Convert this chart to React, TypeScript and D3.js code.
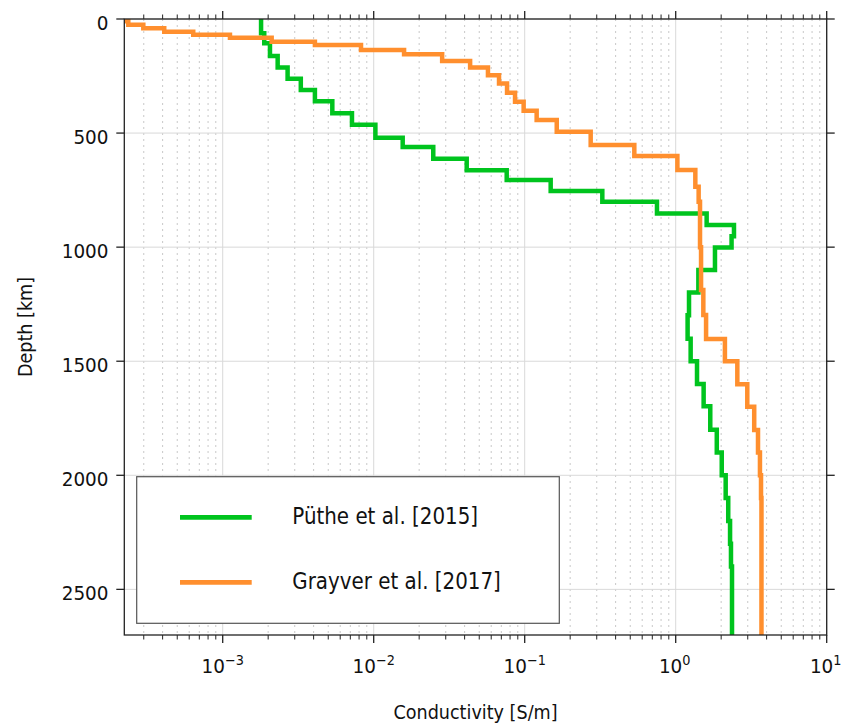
import React from "react";
import * as d3 from "d3";

// layer tops [km] and conductivity [S/m]
const putheDepth = [0, 63, 106, 162, 213, 262, 311, 361, 413, 463, 520, 561, 612, 663, 706, 754, 801, 852, 903, 952, 1002, 1100, 1199, 1299, 1402, 1500, 1600, 1697, 1800, 1900, 2000, 2100, 2200, 2300, 2400];
const putheSigma = [1.795e-3, 1.884e-3, 2.056e-3, 2.312e-3, 2.69e-3, 3.29e-3, 4.08e-3, 5.32e-3, 7.18e-3, 1.026e-2, 1.556e-2, 2.48e-2, 4.13e-2, 7.6e-2, 0.1486, 0.3266, 0.7516, 1.603, 2.432, 2.344, 1.82, 1.413, 1.225, 1.199, 1.256, 1.384, 1.531, 1.694, 1.871, 2.018, 2.143, 2.228, 2.291, 2.323, 2.36];

const grayverDepth = [0, 10, 25, 40, 56, 69, 82, 100, 114, 136, 155, 184, 213, 247, 283, 323, 363, 402, 443, 494, 552, 600, 662, 735, 801, 1000, 1188, 1297, 1403, 1500, 1601, 1700, 1801, 1900, 2000, 2100];
const grayverSigma = [2.25e-4, 2.37e-4, 2.98e-4, 4.1e-4, 6.38e-4, 1.117e-3, 2.11e-3, 4.08e-3, 8.24e-3, 1.589e-2, 2.84e-2, 4.35e-2, 5.71e-2, 6.76e-2, 7.64e-2, 8.63e-2, 9.84e-2, 0.12, 0.163, 0.2735, 0.532, 1.026, 1.349, 1.419, 1.449, 1.472, 1.524, 1.589, 2.118, 2.559, 2.979, 3.311, 3.508, 3.614, 3.673, 3.698];

const seriesNames = ["Püthe et al. [2015]", "Grayver et al. [2017]"];
const seriesColors = ["#00c41e", "#ff8f2e"];
const depthTicks = [0, 500, 1000, 1500, 2000, 2500];
const decadeTicks = [-3, -2, -1, 0, 1];
const maxDepth = 2700;

const FONT = "DejaVu Sans, sans-serif";

const x = d3.scaleLog().domain([2.23e-4, 10]).range([124.3, 826.7]);
const y = d3.scaleLinear().domain([0, maxDepth]).range([19, 635]);

const stepPoints = (depth: number[], sigma: number[]) => {
  const pts: [number, number][] = [];
  depth.forEach((d, i) => {
    const bottom = i + 1 < depth.length ? depth[i + 1] : maxDepth;
    pts.push([sigma[i], d]);
    pts.push([sigma[i], bottom]);
  });
  return pts;
};

const lineGen = d3
  .line<[number, number]>()
  .x(d => x(d[0]))
  .y(d => y(d[1]));

const Label = ({ x0, y0, sx = 0.9, anchor = "middle", size = 20, rotate = 0, children }: any) => (
  <text
    transform={`translate(${x0},${y0}) rotate(${rotate}) scale(${sx},1)`}
    textAnchor={anchor}
    fontFamily={FONT}
    fontSize={size}
    fill="#111"
  >
    {children}
  </text>
);

export default function App() {
  const [x0, x1] = x.range();
  const [y0, y1] = y.range();
  const minor = x.ticks().filter(t => {
    const l = Math.log10(t);
    return Math.abs(l - Math.round(l)) > 1e-6;
  });
  const series = [
    stepPoints(putheDepth, putheSigma),
    stepPoints(grayverDepth, grayverSigma)
  ];

  return (
    <svg width={846} height={725} style={{ position: "absolute", left: 0, top: 0, background: "#fff" }}>
      <defs>
        <clipPath id="plot">
          <rect x={x0} y={y0} width={x1 - x0} height={y1 - y0} />
        </clipPath>
      </defs>

      {/* grid */}
      {minor.map(t => (
        <line key={"mg" + t} x1={x(t)} x2={x(t)} y1={y0} y2={y1} stroke="#c8c8c8" strokeWidth={1} strokeDasharray="2,4" />
      ))}
      {decadeTicks.map(e => (
        <line key={"g" + e} x1={x(10 ** e)} x2={x(10 ** e)} y1={y0} y2={y1} stroke="#d9d9d9" strokeWidth={1} />
      ))}
      {depthTicks.map(d => (
        <line key={"hg" + d} x1={x0} x2={x1} y1={y(d)} y2={y(d)} stroke="#d9d9d9" strokeWidth={1} />
      ))}

      {/* series */}
      <g clipPath="url(#plot)">
        {series.map((pts, i) => (
          <path key={i} d={lineGen(pts) || ""} fill="none" stroke={seriesColors[i]} strokeWidth={4.5} strokeLinejoin="miter" />
        ))}
      </g>

      {/* frame */}
      <rect x={x0} y={y0} width={x1 - x0} height={y1 - y0} fill="none" stroke="#222" strokeWidth={1.3} />

      {/* x ticks top & bottom */}
      {decadeTicks.map(e => (
        <g key={"xt" + e} stroke="#222" strokeWidth={1.3}>
          <line x1={x(10 ** e)} x2={x(10 ** e)} y1={y1} y2={y1 + 8} />
          <line x1={x(10 ** e)} x2={x(10 ** e)} y1={y0} y2={y0 - 8} />
        </g>
      ))}
      {minor.map(t => (
        <g key={"xm" + t} stroke="#222" strokeWidth={1}>
          <line x1={x(t)} x2={x(t)} y1={y1} y2={y1 + 4.5} />
          <line x1={x(t)} x2={x(t)} y1={y0} y2={y0 - 4.5} />
        </g>
      ))}
      {/* y ticks left & right */}
      {depthTicks.map(d => (
        <g key={"yt" + d} stroke="#222" strokeWidth={1.3}>
          <line x1={x0} x2={x0 - 8} y1={y(d)} y2={y(d)} />
          <line x1={x1} x2={x1 + 8} y1={y(d)} y2={y(d)} />
        </g>
      ))}

      {/* tick labels */}
      {depthTicks.map(d => (
        <Label key={"yl" + d} x0={108.5} y0={y(d) + 3.5 + 7} anchor="end" sx={0.92}>
          {d}
        </Label>
      ))}
      {decadeTicks.map(e => (
        <Label key={"xl" + e} x0={x(10 ** e) + (e < 0 ? 0 : -1)} y0={673} sx={0.92}>
          10
          <tspan fontSize={14} dy={-8}>{e < 0 ? "\u2212" + Math.abs(e) : e}</tspan>
        </Label>
      ))}

      {/* axis titles */}
      <Label x0={(x0 + x1) / 2} y0={719} sx={0.88}>Conductivity [S/m]</Label>
      <Label x0={31.5} y0={(y0 + y1) / 2} rotate={-90} sx={0.88}>Depth [km]</Label>

      {/* legend */}
      <rect x={136.7} y={476.7} width={422.6} height={146.6} fill="#fff" stroke="#555" strokeWidth={1.2} />
      {seriesNames.map((name, i) => (
        <g key={name}>
          <line x1={180} x2={251.7} y1={517.3 + i * 65} y2={517.3 + i * 65} stroke={seriesColors[i]} strokeWidth={4.7} />
          <Label x0={292.3} y0={524 + i * 65} anchor="start" size={23.5} sx={0.845}>
            {name}
          </Label>
        </g>
      ))}
    </svg>
  );
}
